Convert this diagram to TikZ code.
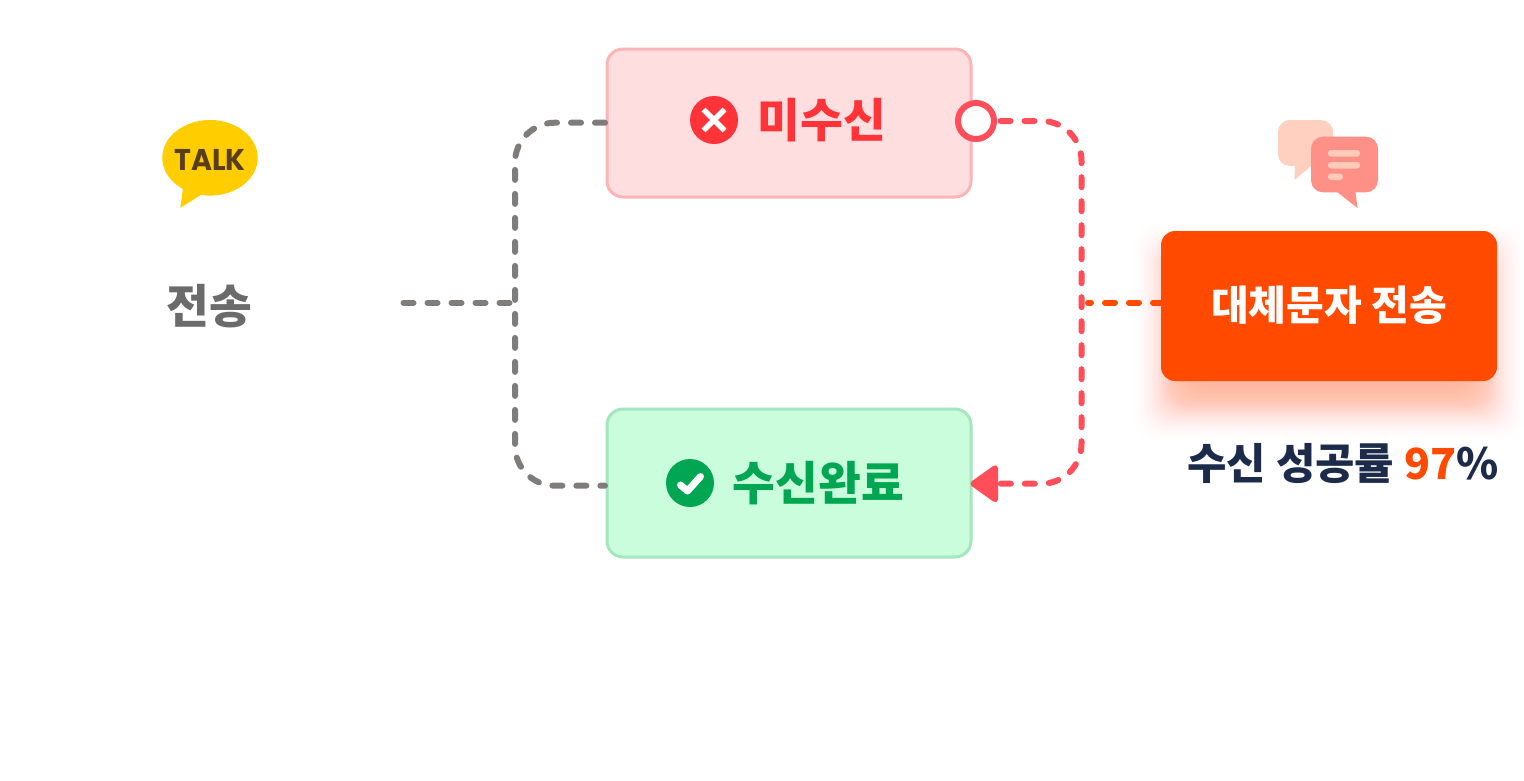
\documentclass[tikz,border=0pt]{standalone}
\usepackage{fontspec}
\usetikzlibrary{arrows.meta,shapes.geometric}
\setmainfont{Noto Sans CJK KR}
\newcommand{\krb}{\bfseries}
\newfontfamily\talkfont{Poppins}
\definecolor{gline}{HTML}{7F7C7C}
\definecolor{rline}{HTML}{FF4D59}
\definecolor{oline}{HTML}{FF4A00}
\definecolor{pinkfill}{HTML}{FFDEDF}
\definecolor{pinkedge}{HTML}{FBB5B7}
\definecolor{greenfill}{HTML}{C9FDDB}
\definecolor{greenedge}{HTML}{A4E6BD}
\definecolor{redtxt}{HTML}{FF3338}
\definecolor{greentxt}{HTML}{00A651}
\definecolor{navy}{HTML}{1C2B4A}
\definecolor{greytxt}{HTML}{6B6B6B}
\definecolor{kakao}{HTML}{FFCD00}
\definecolor{talkbrown}{HTML}{5A3E1B}
\definecolor{bubbleA}{HTML}{FFCFBF}
\definecolor{bubbleB}{HTML}{FF9088}
\definecolor{bubbleL}{HTML}{FFCBB8}
\tikzset{
  x=1pt,y=-1pt,
  box/.style={rectangle,rounded corners=16pt,minimum width=364pt,minimum height=148pt,line width=3pt,inner sep=0pt},
  txt/.style={font=\krb\fontsize{#1}{#1}\selectfont,inner sep=0pt},
  dashline/.style={line width=6pt,line cap=round,line join=round,rounded corners=40pt,dash pattern=on 10pt off 14pt},
}
\begin{document}
\begin{tikzpicture}
\useasboundingbox[fill=white] (0,0) rectangle (1524,780);
% shadow of the orange box
\foreach \d in {-36,-34,...,36}{
  \pgfmathsetmacro{\shadea}{0.42*2/(15*2.5066)*exp(-(\d*\d)/450)}
  \fill[oline,opacity=\shadea,rounded corners=22pt] (1165-\d,255-\d) rectangle (1493+\d,409+\d);
}
% boxes
\node[box,draw=pinkedge,fill=pinkfill] (pink) at (789,123) {};
\node[box,draw=greenedge,fill=greenfill] (green) at (789,483) {};
\node[rectangle,rounded corners=14pt,fill=oline,minimum width=336pt,minimum height=150pt,inner sep=0pt,outer sep=0pt] (alt) at (1329,306) {};
% ring
\node[circle,draw=rline,fill=white,line width=6pt,minimum size=36pt,inner sep=0pt] (ring) at (976,121) {};
% texts
\node[txt=46.5pt,text=greytxt] (send) at (209.5,306.5) {전송};
\node[txt=46.5pt,text=redtxt] (miss) at (822,120) {미수신};
\node[txt=46.5pt,text=greentxt] (ok) at (818.5,483) {수신완료};
\node[txt=41pt,text=white] (alttxt) at (1329,305) {대체문자 전송};
\node[txt=42.8pt,text=navy] (rate) at (1343,464) {수신 성공률 \textcolor{oline}{97}\%};
% red x icon
\fill[redtxt] (714,120) circle (24);
\draw[white,line width=5.5pt] (703.5,109.5) -- (724.5,130.5) (724.5,109.5) -- (703.5,130.5);
% green check icon
\fill[greentxt] (690,483) circle (24);
\draw[white,line width=7pt,line cap=round,line join=round] (680.5,485) -- (687.5,491) -- (700.5,476.5);
% kakao bubble
\fill[kakao] (210,157.8) ellipse [x radius=47.7,y radius=37.8];
\fill[kakao] (183,188) -- (180.3,207.8) -- (204,193) -- cycle;
\node[inner sep=0pt,text=talkbrown,font=\talkfont\bfseries\fontsize{30pt}{30pt}\selectfont] (talk) at (210,160) {\scalebox{.95}[1]{TALK}};
% chat icon
\fill[bubbleA,rounded corners=12pt] (1278,120) rectangle (1333,166);
\fill[bubbleA,line join=round] (1295,160) -- (1294.5,180) -- (1318,160) -- cycle;
\fill[bubbleB,rounded corners=12pt] (1311,136.7) rectangle (1378,192.3);
\fill[bubbleB] (1332,188) -- (1357.5,208) -- (1355,188) -- cycle;
\fill[bubbleL,rounded corners=3pt] (1328,150) rectangle (1360,156.5);
\fill[bubbleL,rounded corners=3pt] (1328,162) rectangle (1360,168.5);
\fill[bubbleL,rounded corners=3pt] (1328,173.5) rectangle (1343,180);
% connectors
\draw[dashline,gline] (pink.west) ++(-0.5,-0.3) -- (515,122.7) -- (515,485.7) -- ([xshift=-0.5pt,yshift=-2.7pt]green.west);
\draw[dashline,gline,rounded corners=0pt] (403.5,302.7) coordinate (sendout) -- (512,302.7) coordinate (junc);
\draw[dashline,rline,dash phase=20.5pt,{-{Triangle[length=30pt,width=41pt,round]}}] (ring.east) -- (1081.5,121) -- (1081.5,483.7) -- ([xshift=-2pt,yshift=-0.7pt]green.east);
\draw[dashline,oline,rounded corners=0pt,dash phase=2pt] (alt.west |- 0,302.7) -- (1088,302.7);
\end{tikzpicture}
\end{document}
